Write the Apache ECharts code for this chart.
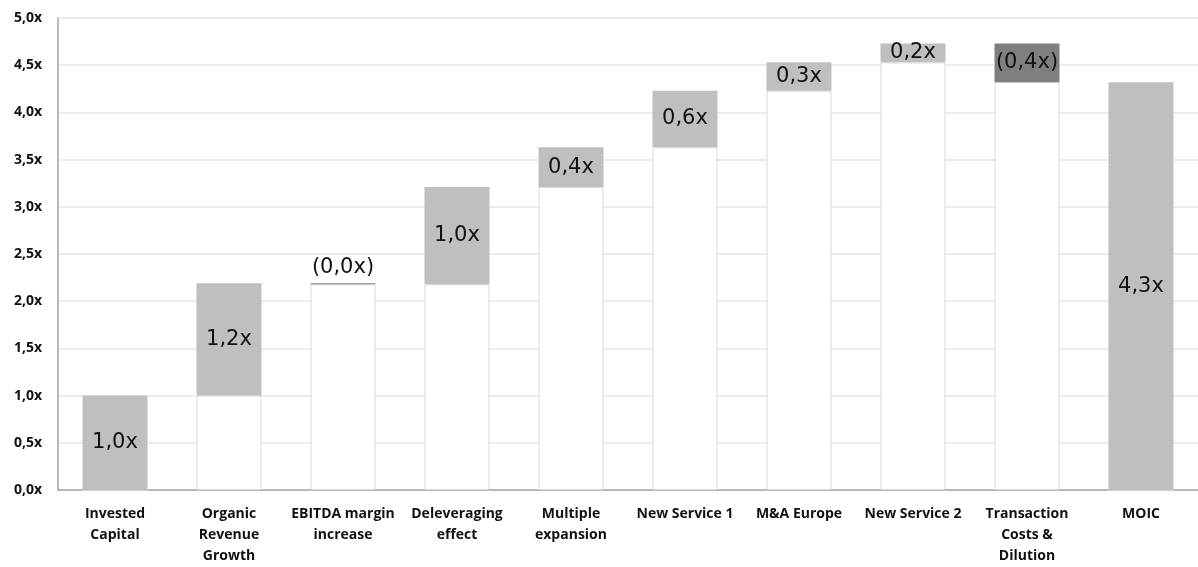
<!DOCTYPE html>
<html><head><meta charset="utf-8">
<script src="https://cdn.jsdelivr.net/npm/echarts@6/dist/echarts.min.js"></script>
<style>html,body{margin:0;padding:0;background:#fff;overflow:hidden}#c{width:1198px;height:567px}</style>
</head><body><div id="c"></div>
<script>
const categories = ["Invested\nCapital","Organic\nRevenue\nGrowth","EBITDA margin\nincrease","Deleveraging\neffect","Multiple\nexpansion","New Service 1","M&A Europe","New Service 2","Transaction\nCosts &\nDilution","MOIC"];
// step changes (first = invested capital); last category is the total
const steps = [1.0, 1.19, -0.01, 1.03, 0.42, 0.60, 0.30, 0.20, -0.41];
const yTicks = {min:0, max:5, interval:0.5};

function fmt(v){ const s = Math.abs(v).toFixed(1).replace('.', ',') + 'x'; return v < 0 ? '(' + s + ')' : s; }

const base = [], delta = [];
let cum = 0;
steps.forEach((s, i) => {
  const start = cum, end = cum + s;
  base.push(Math.min(start, end));
  delta.push({value: Math.abs(s), raw: s,
    itemStyle: {color: s < 0 ? '#7f7f7f' : '#bfbfbf'},
    label: {position: Math.abs(s) < 0.05 ? 'top' : 'inside'}});
  cum = end;
});
base.push(0);
delta.push({value: cum, raw: cum, itemStyle: {color: '#bfbfbf'}, label: {position: 'inside'}});

const chart = echarts.init(document.getElementById('c'), null, {renderer: 'canvas'});
chart.setOption({
  animation: false,
  grid: {left: 58, right: -3, top: 18, bottom: 70},
  xAxis: {
    type: 'category', data: categories,
    axisLine: {lineStyle: {color: '#a6a6a6', width: 1.5}},
    axisTick: {show: false},
    axisLabel: {interval: 0, color: '#111', fontFamily: 'Open Sans', fontWeight: 'bold', fontSize: 14, lineHeight: 21, margin: 14}
  },
  yAxis: {
    type: 'value', min: yTicks.min, max: yTicks.max, interval: yTicks.interval,
    axisLine: {show: true, lineStyle: {color: '#a6a6a6', width: 1.5}},
    axisTick: {show: false},
    splitLine: {lineStyle: {color: '#e6e6e6', width: 1.5}},
    axisLabel: {color: '#111', fontFamily: 'Open Sans', fontWeight: 'bold', fontSize: 14, margin: 16,
      formatter: v => v.toFixed(1).replace('.', ',') + 'x'}
  },
  series: [
    {type: 'bar', stack: 'w', barWidth: '57%', data: base,
      itemStyle: {color: '#ffffff', borderColor: '#d9d9d9', borderWidth: 1}, silent: true},
    {type: 'bar', stack: 'w', barWidth: '57%', data: delta,
      label: {show: true, color: '#111', fontFamily: 'DejaVu Sans', fontSize: 21,
        formatter: p => fmt(p.data.raw)}}
  ]
});
</script></body></html>
